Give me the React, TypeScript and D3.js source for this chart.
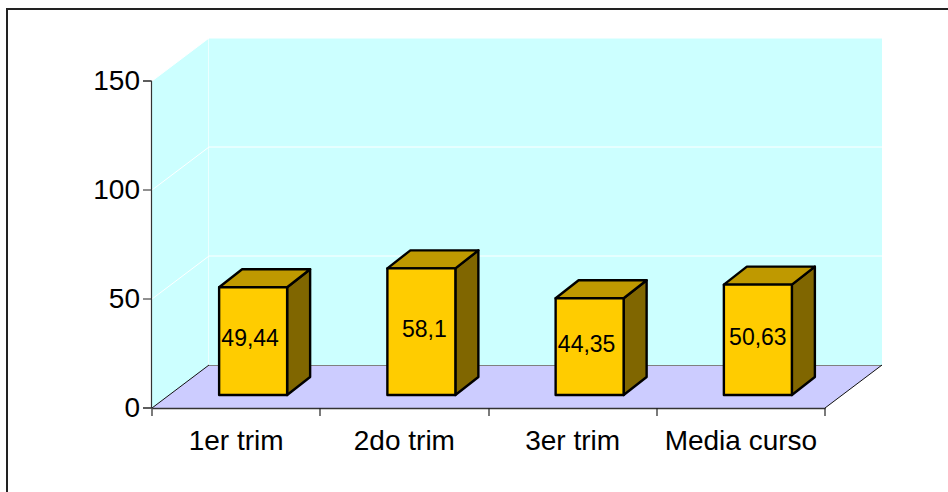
import { useEffect, useRef } from "react";
import * as d3 from "d3";

const categories = ["1er trim", "2do trim", "3er trim", "Media curso"];
const values = [49.44, 58.1, 44.35, 50.63];
const valueLabels = ["49,44", "58,1", "44,35", "50,63"];
const yTicks = [0, 50, 100, 150];

const FONT = "'Liberation Sans', Arial, sans-serif";

export default function App() {
  const ref = useRef<SVGSVGElement | null>(null);

  useEffect(() => {
    const svg = d3.select(ref.current);
    svg.selectAll("*").remove();

    // front plane of the chart, the back wall is shifted by the depth
    const left = 152;
    const right = 825;
    const bottom = 408;
    const top = 81;
    const depthX = 57;
    const depthY = 43;

    const y = d3.scaleLinear().domain([0, 150]).range([bottom, top]);
    const x = d3.scaleBand().domain(categories).range([left, right]);
    const barWidth = 68;
    const barDx = 17; // bars sit a bit inside the floor
    const barDy = 13;
    const boxDx = 23; // depth of the box itself
    const boxDy = 18;
    // the original labels are not quite centred on the bars
    const labelDx = [-3, 3, -3, 0];

    const poly = (pts: number[][]) => pts.map((p) => p.join(",")).join(" ");

    // frame
    svg
      .append("path")
      .attr("d", "M7,492V9H948")
      .attr("fill", "none")
      .attr("stroke", "#222")
      .attr("stroke-width", 2);

    // walls
    svg
      .append("polygon")
      .attr("points", poly([[left, bottom], [left + depthX, bottom - depthY], [right + depthX, bottom - depthY], [right + depthX, top - depthY], [left + depthX, top - depthY], [left, top]]))
      .attr("fill", "#CCFFFF");

    // floor
    svg
      .append("polygon")
      .attr("points", poly([[left, bottom], [right, bottom], [right + depthX, bottom - depthY], [left + depthX, bottom - depthY]]))
      .attr("fill", "#CCCCFF");

    // gridlines
    const grid = svg.append("g").attr("fill", "none").attr("stroke", "#fff");
    yTicks.slice(1).forEach((t) => {
      const yy = Math.round(y(t));
      grid
        .append("path")
        .attr("d", `M${left},${yy}L${left + depthX},${yy - depthY}H${right + depthX}`)
        .attr("stroke-width", 1);
    });
    grid
      .append("line")
      .attr("x1", left + depthX - 0.5)
      .attr("x2", left + depthX - 0.5)
      .attr("y1", top - depthY)
      .attr("y2", bottom - depthY)
      .attr("stroke-opacity", 0.6);

    // floor edges
    svg
      .append("line")
      .attr("x1", left + depthX)
      .attr("x2", right + depthX)
      .attr("y1", bottom - depthY + 0.5)
      .attr("y2", bottom - depthY + 0.5)
      .attr("stroke", "#808080");
    svg
      .append("path")
      .attr("d", `M${left},${bottom}L${left + depthX},${bottom - depthY}`)
      .attr("stroke", "#111")
      .attr("stroke-width", 1);
    svg
      .append("path")
      .attr("d", `M${right},${bottom}L${right + depthX},${bottom - depthY}`)
      .attr("stroke", "#111")
      .attr("stroke-width", 1);

    // y axis
    const yAxis = svg
      .append("g")
      .attr("transform", `translate(${left - 1},-0.5)`)
      .call(d3.axisLeft(y).tickValues(yTicks).tickSize(8).tickPadding(3));
    yAxis.select(".domain").attr("stroke", "#333").attr("stroke-width", 1.2);
    yAxis.selectAll(".tick line").attr("stroke", "#222");
    yAxis
      .selectAll("text")
      .attr("font-family", FONT)
      .attr("font-size", 28)
      .attr("fill", "#000")
      .attr("dy", 9);

    // x axis, labels from the band scale and ticks on the band edges
    const xAxis = svg
      .append("g")
      .attr("transform", `translate(0,${bottom})`)
      .call(d3.axisBottom(x).tickSize(0).tickPadding(0));
    xAxis.select(".domain").attr("stroke", "#333").attr("stroke-width", 1.4);
    xAxis
      .selectAll("text")
      .attr("font-family", FONT)
      .attr("font-size", 28)
      .attr("fill", "#000")
      .attr("dy", 0)
      .attr("y", 42);
    [...categories.map((c) => x(c) as number), right].forEach((px) => {
      xAxis
        .append("line")
        .attr("x1", Math.round(px))
        .attr("x2", Math.round(px))
        .attr("y1", 0)
        .attr("y2", 8)
        .attr("stroke", "#222")
        .attr("stroke-width", 1.2);
    });

    // bars
    const bars = svg
      .append("g")
      .selectAll("g")
      .data(categories)
      .join("g")
      .attr("stroke", "#000")
      .attr("stroke-width", 2.4)
      .attr("stroke-linejoin", "round");

    const x0 = (c: string) => (x(c) as number) + x.bandwidth() / 2 + barDx - barWidth / 2;
    const base = y(0) - barDy;
    const yTop = (i: number) => base - (y(0) - y(values[i]));

    bars
      .append("polygon")
      .attr("points", (c, i) =>
        poly([[x0(c) + barWidth, yTop(i)], [x0(c) + barWidth + boxDx, yTop(i) - boxDy], [x0(c) + barWidth + boxDx, base - boxDy], [x0(c) + barWidth, base]])
      )
      .attr("fill", "#806600");
    bars
      .append("polygon")
      .attr("points", (c, i) =>
        poly([[x0(c), yTop(i)], [x0(c) + boxDx, yTop(i) - boxDy], [x0(c) + barWidth + boxDx, yTop(i) - boxDy], [x0(c) + barWidth, yTop(i)]])
      )
      .attr("fill", "#BF9900");
    bars
      .append("rect")
      .attr("x", (c) => x0(c))
      .attr("y", (c, i) => yTop(i))
      .attr("width", barWidth)
      .attr("height", (c, i) => base - yTop(i))
      .attr("fill", "#FFCC00");

    // value labels
    svg
      .append("g")
      .selectAll("text")
      .data(categories)
      .join("text")
      .attr("x", (c, i) => x0(c) + barWidth / 2 + labelDx[i])
      .attr("y", (c, i) => (yTop(i) + base) / 2 + 5)
      .attr("text-anchor", "middle")
      .attr("font-family", FONT)
      .attr("font-size", 23)
      .attr("fill", "#000")
      .text((c, i) => valueLabels[i]);
  }, []);

  return (
    <svg
      ref={ref}
      width={948}
      height={492}
      style={{ position: "absolute", left: 0, top: 0, display: "block", background: "#fff" }}
    />
  );
}
